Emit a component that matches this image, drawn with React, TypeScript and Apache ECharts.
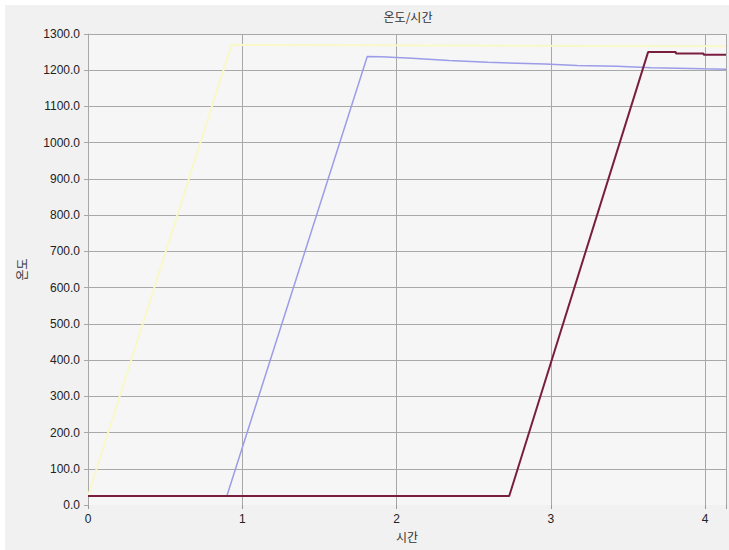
import React, { useEffect, useRef } from "react";
import * as echarts from "echarts";

const titleText = "온도/시간";
const xName = "시간";
const yName = "온도";

const seriesYellow: [number, number][] = [
  [0, 25], [0.93, 1270], [2.5, 1268], [4.135, 1266],
];
const seriesPurple: [number, number][] = [
  [0.9, 25], [1.81, 1238], [1.9, 1237], [2.0, 1235], [2.1, 1233], [2.34, 1227],
  [2.59, 1222], [2.96, 1217], [3.17, 1213], [3.43, 1211], [3.65, 1207], [3.99, 1204], [4.135, 1203],
];
const seriesRed: [number, number][] = [
  [0, 25], [2.73, 25], [3.63, 1250], [3.81, 1250], [3.81, 1246], [3.99, 1246], [3.99, 1243], [4.135, 1243],
];

const xMin = 0;
const xMax = 4.135;
const yMin = 0;
const yMax = 1300;

export default function App() {
  const ref = useRef<HTMLDivElement>(null);
  useEffect(() => {
    if (!ref.current) return;
    const chart = echarts.init(ref.current, null, { renderer: "svg" });
    const font = "'Liberation Sans', Arial, 'Noto Sans CJK KR', sans-serif";
    const cjk = "'Noto Sans CJK KR', sans-serif";
    chart.setOption({
      animation: false,
      backgroundColor: "#f1f1f1",
      graphic: [
        {
          type: "text",
          x: 403,
          y: 11,
          style: {
            text: titleText,
            fontSize: 12,
            fill: "#333",
            fontFamily: cjk,
            align: "center",
            verticalAlign: "middle",
          },
        },
      ],
      grid: {
        left: 83, right: 0, top: 29, bottom: 45,
        show: true, backgroundColor: "#f6f6f6", borderWidth: 0,
      },
      xAxis: {
        type: "value", min: xMin, max: xMax, interval: 1,
        name: xName, nameLocation: "middle", nameGap: 25,
        nameTextStyle: { fontSize: 12, color: "#333", fontFamily: cjk },
        axisLine: { show: false },
        axisTick: { show: true, length: 4, lineStyle: { color: "#999" } },
        axisLabel: {
          margin: 8, fontSize: 12, color: "#222", fontFamily: font,
          formatter: (v: number) => (Number.isInteger(v) ? String(v) : ""),
        },
        splitLine: { show: true, lineStyle: { color: "#a8a8a8", width: 1 } },
      },
      yAxis: {
        type: "value", min: yMin, max: yMax, interval: 100,
        name: yName, nameLocation: "middle", nameGap: 61, nameRotate: 90,
        nameTextStyle: { fontSize: 12, color: "#333", fontFamily: cjk },
        axisLine: { show: true, lineStyle: { color: "#a8a8a8" } },
        axisTick: { show: true, length: 4, lineStyle: { color: "#a8a8a8" } },
        axisLabel: {
          margin: 8, fontSize: 12, color: "#222", fontFamily: font,
          formatter: (v: number) => v.toFixed(1),
        },
        splitLine: { show: true, showMinLine: false, lineStyle: { color: "#a8a8a8", width: 1 } },
      },
      series: [
        {
          type: "line", data: seriesYellow, showSymbol: false, symbol: "none",
          lineStyle: { color: "#f8f8c8", width: 2 },
        },
        {
          type: "line", data: seriesPurple, showSymbol: false, symbol: "none",
          lineStyle: { color: "#9c9ce8", width: 1.5 },
        },
        {
          type: "line", data: seriesRed, showSymbol: false, symbol: "none",
          lineStyle: { color: "#7a1e40", width: 2 },
        },
      ],
    });
    return () => chart.dispose();
  }, []);
  return (
    <div
      ref={ref}
      style={{ position: "absolute", left: 5, top: 5, width: 724, height: 545 }}
    />
  );
}
